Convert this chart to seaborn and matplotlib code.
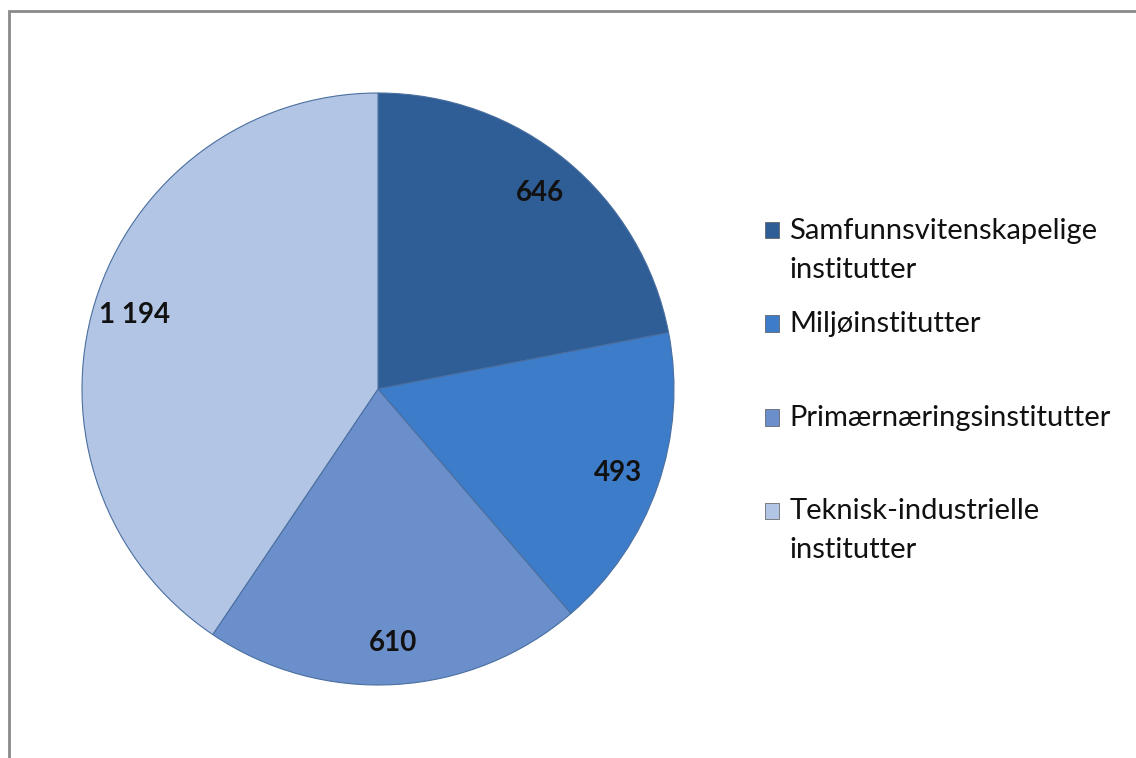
import matplotlib
matplotlib.use("Agg")
import matplotlib.pyplot as plt
from matplotlib.patches import Rectangle
from matplotlib.legend_handler import HandlerPatch
import seaborn as sns

# data
categories = ["Samfunnsvitenskapelige\ninstitutter", "Miljøinstitutter",
              "Primærnæringsinstitutter", "Teknisk-industrielle\ninstitutter"]
values = [646, 493, 610, 1194]
value_labels = ["646", "493", "610", "1 194"]
colors = ["#2F5E96", "#3D7CC9", "#6A8FCB", "#B3C5E4"]

sns.set_theme(style="white")
plt.rcParams["font.family"] = ["Lato", "DejaVu Sans"]

W, H = 1136, 758
fig = plt.figure(figsize=(W / 100, H / 100), dpi=100)

# pie placed at centre (378, 389) px with radius 296 px
cx, cy, r = 378, 389, 296
ax = fig.add_axes([(cx - r) / W, (H - cy - r) / H, 2 * r / W, 2 * r / H])

lookup = dict(zip(values, value_labels))
total = sum(values)


def fmt(pct):
    v = round(pct * total / 100)
    return lookup.get(v, str(v))


wedges, texts, autotexts = ax.pie(
    values, colors=colors, startangle=90, counterclock=False,
    autopct=fmt, pctdistance=0.86,
    wedgeprops=dict(edgecolor="#4A6FA0", linewidth=0.8),
    textprops=dict(fontsize=20, fontweight="bold", color="#111111"),
)
ax.set_xlim(-1, 1)
ax.set_ylim(-1, 1)

# Excel gives every legend entry the same two-line slot, marker on the first line
LINE_SHIFT = 14.5  # points


def first_line_box(legend, orig_handle, xdescent, ydescent, width, height, fontsize):
    return Rectangle((-xdescent, -ydescent + LINE_SHIFT), width, height)


slot_labels = [c if "\n" in c else c + "\n " for c in categories]
leg = ax.legend(
    handles=[Rectangle((0, 0), 1, 1, facecolor=c, edgecolor="#555555", lw=0.5) for c in colors],
    labels=slot_labels, loc="upper left",
    bbox_to_anchor=(753 / W, 1 - 206 / H), bbox_transform=fig.transFigure,
    frameon=False, fontsize=21, handlelength=0.5, handleheight=0.5,
    handletextpad=0.35, labelspacing=0.98, borderaxespad=0,
    handler_map={Rectangle: HandlerPatch(patch_func=first_line_box)},
)
for t in leg.get_texts():
    t.set_linespacing(1.62)
    t.set_color("#111111")

# outer chart border (runs off the right and bottom edges)
fig.patches.append(Rectangle((9 / W, -0.1), 1.2, 1 - 11 / H + 0.1,
                             transform=fig.transFigure, fill=False,
                             edgecolor="#8A8A8A", linewidth=2))

fig.savefig("out.png", dpi=100, facecolor="white")
